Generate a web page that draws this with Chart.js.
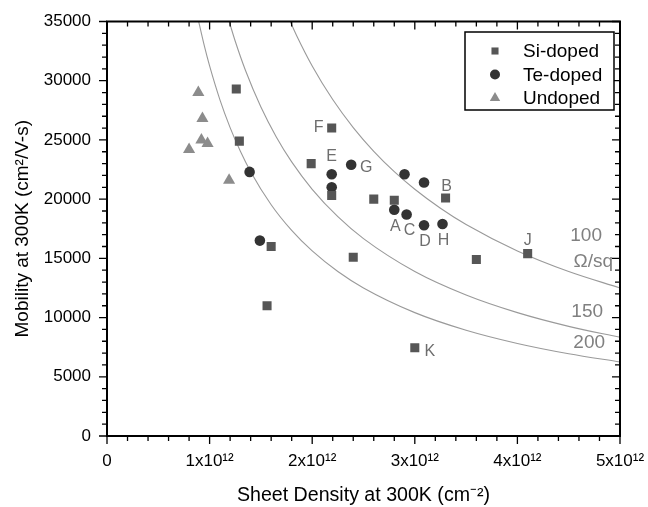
<!DOCTYPE html>
<html>
<head>
<meta charset="utf-8">
<script src="https://cdn.jsdelivr.net/npm/chart.js@4/dist/chart.umd.min.js"></script>
<style>
  body { margin: 0; background: #fff; }
</style>
</head>
<body>
<canvas id="c" width="648" height="507"></canvas>
<script>
// measured points (sheet density cm^-2, mobility cm2/V-s)
const siX = [1.26e12, 1.29e12, 1.99e12, 2.19e12, 2.19e12, 2.60e12, 2.80e12, 3.30e12, 2.40e12, 3.60e12, 4.10e12, 3.00e12, 1.60e12, 1.56e12];
const siY = [29300, 24900, 23000, 26000, 20300, 20000, 19900, 20100, 15100, 14900, 15400, 7450, 16000, 11000];
const teX = [1.39e12, 1.49e12, 2.19e12, 2.19e12, 2.38e12, 2.90e12, 3.09e12, 2.80e12, 2.92e12, 3.09e12, 3.27e12];
const teY = [22300, 16500, 22100, 21000, 22900, 22100, 21400, 19100, 18700, 17800, 17900];
const unX = [0.89e12, 0.93e12, 0.92e12, 0.98e12, 0.80e12, 1.19e12];
const unY = [29000, 26800, 25000, 24700, 24200, 21600];

// constant sheet resistance curves
const r100N  = [1.77e12, 1.85e12, 2.0e12, 2.2e12, 2.4e12, 2.6e12, 2.8e12, 3.0e12, 3.25e12, 3.5e12, 4.0e12, 4.5e12, 5.0e12];
const r100Mu = [35311, 33784, 31250, 28409, 26042, 24038, 22321, 20833, 19231, 17857, 15625, 13889, 12500];
const r150N  = [1.18e12, 1.25e12, 1.35e12, 1.5e12, 1.65e12, 1.8e12, 2.0e12, 2.25e12, 2.5e12, 3.0e12, 3.5e12, 4.0e12, 4.5e12, 5.0e12];
const r150Mu = [35311, 33333, 30864, 27778, 25253, 23148, 20833, 18519, 16667, 13889, 11905, 10417, 9259, 8333];
const r200N  = [0.88e12, 0.95e12, 1.0e12, 1.1e12, 1.2e12, 1.3e12, 1.4e12, 1.6e12, 1.8e12, 2.0e12, 2.25e12, 2.5e12, 3.0e12, 3.5e12, 4.0e12, 4.5e12, 5.0e12];
const r200Mu = [35511, 32895, 31250, 28409, 26042, 24038, 22321, 19531, 17361, 15625, 13889, 12500, 10417, 8929, 7813, 6944, 6250];

// sample names next to points: [dataset, index, text, dx, dy]
const pointNames = [
  ['si', 3, 'F', -13, 0],
  ['te', 2, 'E', 0, -18],
  ['te', 4, 'G', 15, 3],
  ['si', 7, 'B', 1, -11],
  ['te', 7, 'A', 1, 17],
  ['te', 8, 'C', 3, 16],
  ['te', 9, 'D', 1, 16],
  ['te', 10, 'H', 1, 17],
  ['si', 10, 'J', 0, -13],
  ['si', 11, 'K', 15, 4]
];
// curve labels in data coordinates
const curveNames = [
  [4.67e12, 16900, '100'],
  [4.74e12, 14700, '\u03A9/sq'],
  [4.68e12, 10450, '150'],
  [4.70e12, 7850, '200']
];

const FONT = '"Liberation Sans", Arial, sans-serif';

const zip = (xs, ys) => xs.map((x, i) => ({ x: x, y: ys[i] }));

const curve = (xs, ys) => ({
  data: zip(xs, ys),
  showLine: true,
  pointRadius: 0,
  borderColor: '#9a9a9a',
  borderWidth: 1.1,
  cubicInterpolationMode: 'monotone',
  order: 10
});

const noPad = s => {
  s.paddingTop = 0; s.paddingBottom = 0; s.paddingLeft = 0; s.paddingRight = 0;
};

const decor = {
  id: 'decor',
  afterDatasetsDraw(chart) {
    const ctx = chart.ctx;
    const { left, right, top, bottom } = chart.chartArea;
    const xs = chart.scales.x, ys = chart.scales.y;
    ctx.save();
    ctx.strokeStyle = '#000';
    ctx.lineWidth = 1.3;
    ctx.beginPath();
    for (let i = 0; i <= 25; i++) {
      const px = xs.getPixelForValue(i * 0.2e12);
      const len = i % 5 === 0 ? 8 : 5;
      ctx.moveTo(px, bottom); ctx.lineTo(px, bottom + len);
      ctx.moveTo(px, top); ctx.lineTo(px, top + len);
    }
    for (let i = 0; i <= 35; i++) {
      const py = ys.getPixelForValue(i * 1000);
      const len = i % 5 === 0 ? 8 : 5;
      ctx.moveTo(left - len, py); ctx.lineTo(left, py);
      ctx.moveTo(right - len, py); ctx.lineTo(right, py);
    }
    ctx.stroke();
    ctx.lineWidth = 2;
    ctx.strokeRect(left, top, right - left, bottom - top);

    // sample names
    const metas = { si: chart.getDatasetMeta(0), te: chart.getDatasetMeta(1) };
    ctx.fillStyle = '#6e6e6e';
    ctx.font = '16px ' + FONT;
    ctx.textAlign = 'center';
    ctx.textBaseline = 'middle';
    pointNames.forEach(([ds, idx, txt, dx, dy]) => {
      const el = metas[ds].data[idx];
      ctx.fillText(txt, el.x + dx, el.y + dy);
    });

    // curve labels
    ctx.fillStyle = '#808080';
    ctx.font = '19px ' + FONT;
    curveNames.forEach(([x, y, txt]) => {
      ctx.fillText(txt, xs.getPixelForValue(x), ys.getPixelForValue(y));
    });

    // legend box
    ctx.fillStyle = '#fff';
    ctx.fillRect(465, 32, 149, 78);
    ctx.lineWidth = 1.5;
    ctx.strokeStyle = '#000';
    ctx.strokeRect(465, 32, 149, 78);
    ctx.font = '19px ' + FONT;
    ctx.textAlign = 'left';
    [0, 1, 2].forEach((d, i) => {
      const ds = chart.data.datasets[d];
      const y = 51 + i * 23.5;
      ctx.fillStyle = ds.backgroundColor;
      Chart.helpers.drawPoint(ctx, { pointStyle: ds.pointStyle, radius: ds.pointStyle === 'triangle' ? 6 : 5, rotation: 0, borderWidth: 0 }, 495, y);
      ctx.fillStyle = '#000';
      ctx.fillText(ds.label, 523, y + 1);
    });
    ctx.restore();
  }
};

new Chart(document.getElementById('c'), {
  type: 'scatter',
  data: {
    datasets: [
      { label: 'Si-doped', data: zip(siX, siY), pointStyle: 'rect', pointRadius: 6.4, backgroundColor: '#565656', borderWidth: 0, order: 1 },
      { label: 'Te-doped', data: zip(teX, teY), pointStyle: 'circle', pointRadius: 5.3, backgroundColor: '#333333', borderWidth: 0, order: 1 },
      { label: 'Undoped', data: zip(unX, unY), pointStyle: 'triangle', pointRadius: 7, backgroundColor: '#8c8c8c', borderWidth: 0, order: 1 },
      curve(r100N, r100Mu),
      curve(r150N, r150Mu),
      curve(r200N, r200Mu)
    ]
  },
  options: {
    responsive: false,
    animation: false,
    devicePixelRatio: 1,
    layout: { padding: { top: 21.5, right: 28, bottom: 0, left: 0 } },
    plugins: { legend: { display: false }, tooltip: { enabled: false } },
    scales: {
      x: {
        type: 'linear',
        min: 0,
        max: 5e12,
        grid: { display: false, drawTicks: false },
        border: { display: false },
        afterFit: s => { s.height = 71; noPad(s); },
        ticks: {
          stepSize: 1e12,
          autoSkip: false,
          maxRotation: 0,
          padding: 15,
          color: '#000',
          font: { family: FONT, size: 17 },
          callback: v => v === 0 ? '0' : Math.round(v / 1e12) + 'x10\u00B9\u00B2'
        },
        title: {
          display: true,
          text: 'Sheet Density at 300K (cm\u207B\u00B2)',
          color: '#000',
          font: { family: FONT, size: 19.6 },
          padding: { top: 0, bottom: 0 }
        }
      },
      y: {
        min: 0,
        max: 35000,
        grid: { display: false, drawTicks: false },
        border: { display: false },
        afterFit: s => { s.width = 107; noPad(s); },
        ticks: {
          stepSize: 5000,
          padding: 16,
          color: '#000',
          font: { family: FONT, size: 17 },
          callback: v => String(v)
        },
        title: {
          display: true,
          text: 'Mobility at 300K (cm\u00B2/V-s)',
          color: '#000',
          font: { family: FONT, size: 19 },
          padding: { top: 11, bottom: 0 }
        }
      }
    }
  },
  plugins: [decor]
});
</script>
</body>
</html>
